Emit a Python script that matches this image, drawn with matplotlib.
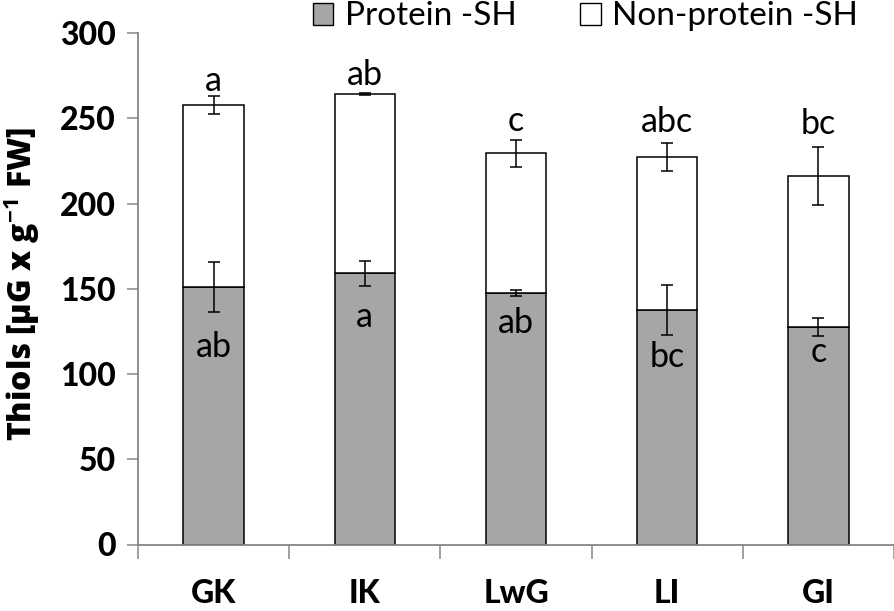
import matplotlib
matplotlib.use('Agg')
import matplotlib.pyplot as plt
import numpy as np
from matplotlib.patches import Patch

# Данные
groups = ['GK', 'IK', 'LwG', 'LI', 'GI']
protein_sh = [151.0, 159.2, 147.5, 137.5, 127.6]
protein_err = [14.4, 7.3, 2.0, 14.7, 5.3]
total_sh = [257.8, 264.2, 229.6, 227.3, 216.1]
total_err = [5.5, 0.5, 7.9, 8.2, 17.0]
letters_top = ['a', 'ab', 'c', 'abc', 'bc']
letters_low = ['ab', 'a', 'ab', 'bc', 'c']

# положение букв (базовая линия, в единицах оси Y)
top_letter_y = [266.0, 269.5, 242.5, 242.0, 240.8]
low_letter_y = [110.0, 127.6, 124.0, 104.0, 107.0]

nonprotein_sh = [t - p for t, p in zip(total_sh, protein_sh)]

plt.rcParams['font.family'] = ['Lato', 'DejaVu Sans']
plt.rcParams['mathtext.fontset'] = 'custom'
plt.rcParams['mathtext.bf'] = 'Open Sans:bold'
plt.rcParams['mathtext.rm'] = 'Open Sans:bold'

ind = np.arange(len(groups))
width = 0.40
grey_fill = '#a6a6a6'
axis_grey = '#868686'
heavy = 'black'

fig = plt.figure(figsize=(8.95, 6.11), dpi=100)
ax = fig.add_axes([138 / 895, 1 - 544.5 / 611, 756 / 895, 511.5 / 611])

ax.bar(ind, protein_sh, width, color=grey_fill, edgecolor='black', linewidth=1.1, zorder=2)
ax.bar(ind, nonprotein_sh, width, bottom=protein_sh, color='white', edgecolor='black',
       linewidth=1.1, zorder=2)

ax.errorbar(ind, protein_sh, yerr=protein_err, fmt='none', ecolor='black',
            elinewidth=1.1, capsize=4.5, capthick=1.1, zorder=3)
ax.errorbar(ind, total_sh, yerr=total_err, fmt='none', ecolor='black',
            elinewidth=1.1, capsize=4.5, capthick=1.1, zorder=3)

for i in ind:
    ax.text(i, top_letter_y[i], letters_top[i], ha='center', va='baseline', fontsize=24.5)
    ax.text(i, low_letter_y[i], letters_low[i], ha='center', va='baseline', fontsize=24.5)

ax.set_xlim(-0.5, len(groups) - 0.5)
ax.set_ylim(0, 300)
ax.set_yticks(np.arange(0, 301, 50))
ax.tick_params(axis='y', direction='out', length=8, width=1.1, color=axis_grey,
               labelsize=23, pad=8)
for lab in ax.get_yticklabels():
    lab.set_fontweight(heavy)

# засечки между группами, подписи по центру
ax.set_xticks(np.arange(-0.5, len(groups), 1.0))
ax.set_xticklabels([])
ax.set_xticks(ind, minor=True)
ax.set_xticklabels(groups, minor=True, fontsize=23, fontweight=heavy)
ax.tick_params(axis='x', which='major', direction='out', length=10, width=1.1, color=axis_grey)
ax.tick_params(axis='x', which='minor', length=0, pad=25)

for side in ('top', 'right'):
    ax.spines[side].set_visible(False)
for side in ('left', 'bottom'):
    ax.spines[side].set_color(axis_grey)
    ax.spines[side].set_linewidth(1.3)

ax.set_ylabel(r'Thiols [µG x g$^{-1}$ FW]', fontsize=23, fontweight='extra bold',
              family=['Open Sans', 'DejaVu Sans'])
ax.yaxis.set_label_coords(-0.127, 0.51)

handles = [Patch(facecolor=grey_fill, edgecolor='black', linewidth=1.0),
           Patch(facecolor='white', edgecolor='black', linewidth=1.0)]
fig.legend(handles, ['Protein -SH', 'Non-protein -SH'], loc='center',
           bbox_to_anchor=(0.654, 0.973), ncol=2, frameon=False, fontsize=24,
           handlelength=0.62, handleheight=0.62, handletextpad=0.35, columnspacing=1.9)

fig.savefig('out.png', dpi=100)
